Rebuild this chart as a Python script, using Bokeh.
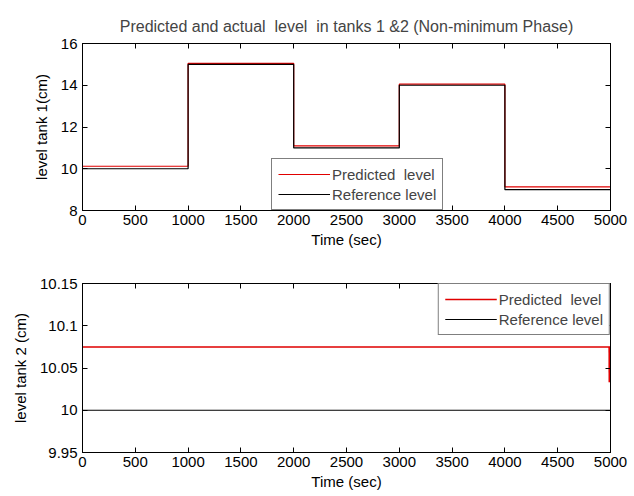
from bokeh.plotting import figure
from bokeh.layouts import column
from bokeh.models import (LinearAxis, FixedTicker, CustomJSTickFormatter, Range1d)
from bokeh.embed import file_html
from bokeh.resources import INLINE

# ---- data ----
time_edges = [0, 1000, 2000, 3000, 4000, 5000]
ref_tank1 = [10.0, 15.0, 11.0, 14.0, 9.0]
pred_tank1 = [10.12, 15.05, 11.1, 14.05, 9.13]

time_tank2 = [0, 4999, 5000]
pred_tank2 = [10.075, 10.075, 10.033]
ref_tank2 = [10.0, 10.0, 10.0]

x_ticks = [0, 500, 1000, 1500, 2000, 2500, 3000, 3500, 4000, 4500, 5000]
y1_ticks = [8, 10, 12, 14, 16]
y2_ticks = [9.95, 10.0, 10.05, 10.1, 10.15]

FONT = "Liberation Sans"
RED = "#e00000"
PRED_LABEL = "Predicted\u00a0\u00a0level"
REF_LABEL = "Reference level"


def staircase(edges, levels):
    xs, ys = [], []
    for i, lv in enumerate(levels):
        xs += [edges[i], edges[i + 1]]
        ys += [lv, lv]
    return xs, ys


def style(p, yticks, ylabel):
    fmt = CustomJSTickFormatter(code="""
        let s = tick.toFixed(2);
        s = s.replace(/0+$/, '').replace(/\\.$/, '');
        return s;
    """)
    p.xaxis.ticker = FixedTicker(ticks=x_ticks)
    p.yaxis.ticker = FixedTicker(ticks=yticks)
    p.yaxis.formatter = fmt
    p.xaxis.axis_label = "Time (sec)"
    p.yaxis.axis_label = ylabel
    for ax in (p.xaxis[0], p.yaxis[0]):
        ax.major_tick_in = 5
        ax.major_tick_out = 0
        ax.minor_tick_line_color = None
        ax.axis_line_color = "black"
        ax.major_tick_line_color = "black"
        ax.major_label_text_font = FONT
        ax.major_label_text_font_size = "15px"
        ax.major_label_text_color = "black"
        ax.axis_label_text_font = FONT
        ax.axis_label_text_font_size = "15px"
        ax.axis_label_text_font_style = "normal"
        ax.axis_label_text_color = "black"
    p.xaxis.major_label_standoff = 4
    p.xaxis.axis_label_standoff = 3
    p.yaxis.major_label_standoff = 5
    p.yaxis.axis_label_standoff = 8
    # inward tick marks on the opposite sides, without labels
    top = LinearAxis(ticker=FixedTicker(ticks=x_ticks), major_label_text_color=None,
                     major_tick_in=5, major_tick_out=0, minor_tick_line_color=None,
                     major_label_standoff=0)
    right = LinearAxis(ticker=FixedTicker(ticks=yticks), major_label_text_color=None,
                       major_tick_in=5, major_tick_out=0, minor_tick_line_color=None,
                       major_label_standoff=0)
    p.add_layout(top, "above")
    p.add_layout(right, "right")
    p.xgrid.grid_line_color = None
    p.ygrid.grid_line_color = None
    p.outline_line_color = "black"
    p.outline_line_width = 1
    p.background_fill_color = "white"
    p.border_fill_color = "white"


def style_legend(lg, location):
    lg.location = location
    lg.label_text_font = FONT
    lg.label_text_font_size = "15px"
    lg.glyph_width = 52
    lg.glyph_height = 18
    lg.label_height = 18
    lg.label_standoff = 2
    lg.padding = 6
    lg.spacing = 2
    lg.margin = 0
    lg.border_line_color = "black"
    lg.border_line_width = 1
    lg.background_fill_alpha = 1


# ---- tank 1 ----
p1 = figure(width=634, height=250, output_backend="svg", toolbar_location=None,
            x_range=Range1d(0, 5000), y_range=Range1d(8, 16),
            min_border_left=82, min_border_right=24, min_border_top=43, min_border_bottom=40)
p1.title.text = "Predicted and actual\u00a0\u00a0level\u00a0\u00a0in tanks 1 &2 (Non-minimum Phase)"
p1.title.align = "center"
p1.title.text_font = FONT
p1.title.text_font_size = "16px"
p1.title.text_font_style = "normal"
p1.title.standoff = 18
style(p1, y1_ticks, "level tank 1(cm)")

px, py = staircase(time_edges, pred_tank1)
rx, ry = staircase(time_edges, ref_tank1)
p1.line(px, py, line_color=RED, line_width=1.2, legend_label=PRED_LABEL)
p1.line(rx, ry, line_color="black", line_width=1.2, legend_label=REF_LABEL)
style_legend(p1.legend[0], (189, 0))

# ---- tank 2 ----
p2 = figure(width=634, height=246, output_backend="svg", toolbar_location=None,
            x_range=Range1d(0, 5000), y_range=Range1d(9.95, 10.15),
            min_border_left=82, min_border_right=24, min_border_top=33, min_border_bottom=44)
style(p2, y2_ticks, "level tank 2 (cm)")
p2.line(time_tank2, pred_tank2, line_color=RED, line_width=1.5, legend_label=PRED_LABEL)
p2.line(time_tank2, ref_tank2, line_color="black", line_width=1.2, legend_label=REF_LABEL)
# final drop of the prediction at the end of the run, drawn heavier
p2.segment(x0=time_tank2[-2], y0=pred_tank2[-2], x1=time_tank2[-1], y1=pred_tank2[-1],
           line_color=RED, line_width=4)
style_legend(p2.legend[0], "top_right")

layout = column(p1, p2, spacing=0)
open("out.html", "w").write(file_html(layout, INLINE))
